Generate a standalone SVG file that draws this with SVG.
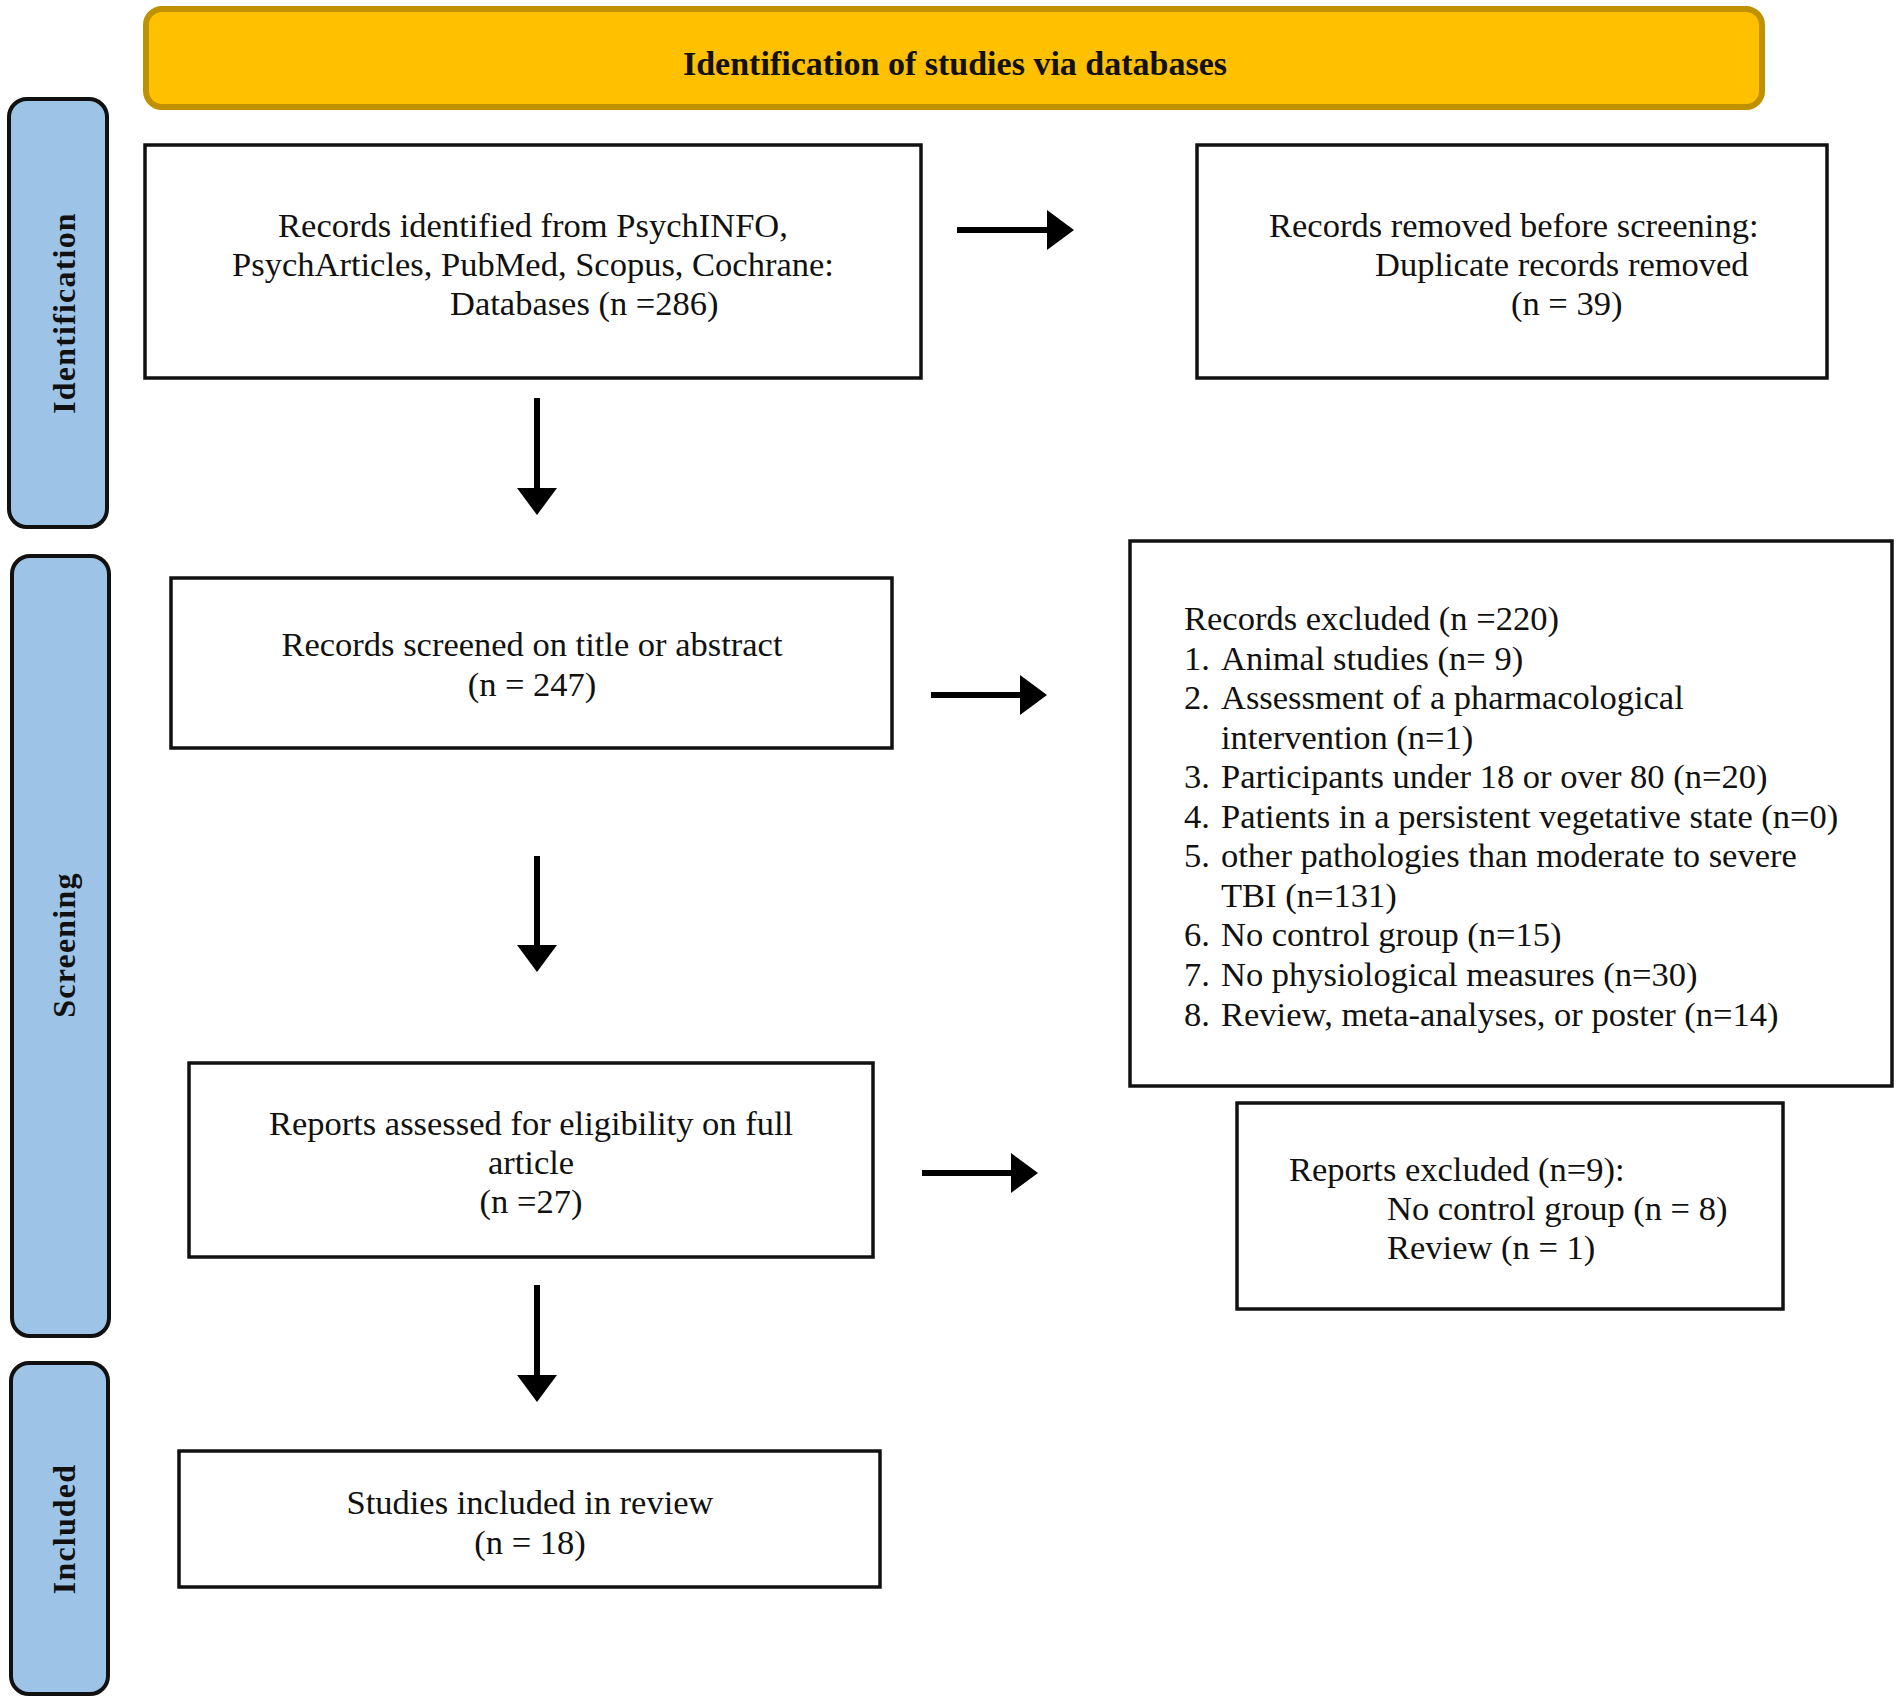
<svg xmlns="http://www.w3.org/2000/svg" width="1901" height="1703" viewBox="0 0 1901 1703">
<style>
.bg{fill:#ffffff}
.hdr{fill:#FFC000;stroke:#BF9000;stroke-width:6}
.band{fill:#9DC3E6;stroke:#111111;stroke-width:4}
.box{fill:#ffffff;stroke:#111111;stroke-width:3.5}
.t{font-family:"Liberation Serif","Times New Roman",serif;font-size:34.5px;fill:#111111}
.c{text-anchor:middle}
.hb{font-family:"Liberation Serif","Times New Roman",serif;font-size:34px;font-weight:bold;fill:#111111;text-anchor:middle}
.vl{font-family:"Liberation Serif","Times New Roman",serif;font-size:32px;font-weight:bold;fill:#111111;text-anchor:middle;letter-spacing:1.2px}
.ar{stroke:#000000;stroke-width:6;fill:none}
</style>
<defs>
<marker id="ah" markerUnits="userSpaceOnUse" markerWidth="28" markerHeight="40" refX="0" refY="20" orient="auto">
<path d="M0,0 L27,20 L0,40 Z" fill="#000000"/>
</marker>
</defs>
<rect class="bg" x="0" y="0" width="1901" height="1703"/>

<g id="header">
<rect class="hdr" x="146" y="9" width="1616" height="98" rx="16" ry="16"/>
<text class="hb" x="955" y="75">Identification of studies via databases</text>
</g>

<g id="band-identification">
<rect class="band" x="9" y="99" width="98" height="428" rx="18" ry="18"/>
<text class="vl" transform="translate(75,313) rotate(-90)">Identification</text>
</g>
<g id="band-screening">
<rect class="band" x="12" y="556" width="97" height="780" rx="18" ry="18"/>
<text class="vl" transform="translate(75,945) rotate(-90)">Screening</text>
</g>
<g id="band-included">
<rect class="band" x="11" y="1363" width="97" height="331" rx="18" ry="18"/>
<text class="vl" transform="translate(75,1529) rotate(-90)">Included</text>
</g>

<g id="records-identified">
<rect class="box" x="145" y="145" width="776" height="233"/>
<text class="t c" x="533" y="237">Records identified from PsychINFO,</text>
<text class="t c" x="533" y="276">PsychArticles, PubMed, Scopus, Cochrane:</text>
<text class="t" x="450" y="315">Databases (n =286)</text>
</g>

<g id="records-removed">
<rect class="box" x="1197" y="145" width="630" height="233"/>
<text class="t" x="1269" y="237">Records removed before screening:</text>
<text class="t" x="1375" y="276">Duplicate records removed</text>
<text class="t" x="1511" y="315">(n = 39)</text>
</g>

<g id="records-screened">
<rect class="box" x="171" y="578" width="721" height="170"/>
<text class="t c" x="532" y="656">Records screened on title or abstract</text>
<text class="t c" x="532" y="696">(n = 247)</text>
</g>

<g id="records-excluded">
<rect class="box" x="1130" y="541" width="762" height="545"/>
<text class="t" x="1184" y="630">Records excluded (n =220)</text>
<text class="t" x="1184" y="670">1.</text><text class="t" x="1221" y="670">Animal studies (n= 9)</text>
<text class="t" x="1184" y="709">2.</text><text class="t" x="1221" y="709">Assessment of a pharmacological</text>
<text class="t" x="1221" y="749">intervention (n=1)</text>
<text class="t" x="1184" y="788">3.</text><text class="t" x="1221" y="788">Participants under 18 or over 80 (n=20)</text>
<text class="t" x="1184" y="828">4.</text><text class="t" x="1221" y="828">Patients in a persistent vegetative state (n=0)</text>
<text class="t" x="1184" y="867">5.</text><text class="t" x="1221" y="867">other pathologies than moderate to severe</text>
<text class="t" x="1221" y="907">TBI (n=131)</text>
<text class="t" x="1184" y="946">6.</text><text class="t" x="1221" y="946">No control group (n=15)</text>
<text class="t" x="1184" y="986">7.</text><text class="t" x="1221" y="986">No physiological measures (n=30)</text>
<text class="t" x="1184" y="1026">8.</text><text class="t" x="1221" y="1026">Review, meta-analyses, or poster (n=14)</text>
</g>

<g id="reports-assessed">
<rect class="box" x="189" y="1063" width="684" height="194"/>
<text class="t c" x="531" y="1135">Reports assessed for eligibility on full</text>
<text class="t c" x="531" y="1174">article</text>
<text class="t c" x="531" y="1213">(n =27)</text>
</g>

<g id="reports-excluded">
<rect class="box" x="1237" y="1103" width="546" height="206"/>
<text class="t" x="1289" y="1181">Reports excluded (n=9):</text>
<text class="t" x="1387" y="1220">No control group (n = 8)</text>
<text class="t" x="1387" y="1259">Review (n = 1)</text>
</g>

<g id="studies-included">
<rect class="box" x="179" y="1451" width="701" height="136"/>
<text class="t c" x="530" y="1514">Studies included in review</text>
<text class="t c" x="530" y="1554">(n = 18)</text>
</g>

<g id="connectors">
<line class="ar" x1="957" y1="230" x2="1047" y2="230" marker-end="url(#ah)"/>
<line class="ar" x1="537" y1="398" x2="537" y2="488" marker-end="url(#ah)"/>
<line class="ar" x1="931" y1="695" x2="1020" y2="695" marker-end="url(#ah)"/>
<line class="ar" x1="537" y1="856" x2="537" y2="945" marker-end="url(#ah)"/>
<line class="ar" x1="922" y1="1173" x2="1011" y2="1173" marker-end="url(#ah)"/>
<line class="ar" x1="537" y1="1285" x2="537" y2="1375" marker-end="url(#ah)"/>
</g>
</svg>
